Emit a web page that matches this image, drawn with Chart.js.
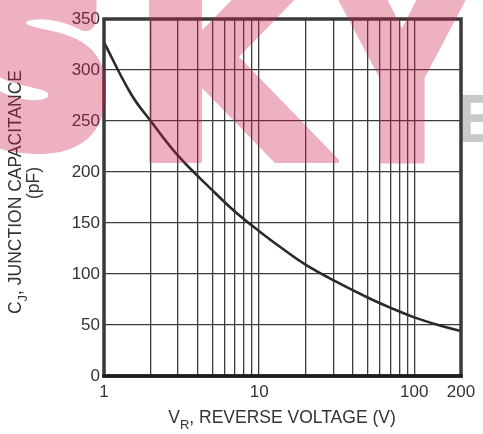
<!DOCTYPE html>
<html>
<head>
<meta charset="utf-8">
<script src="https://cdn.jsdelivr.net/npm/chart.js@4/dist/chart.umd.min.js"></script>
<style>
  html, body { margin: 0; padding: 0; background: #fff; }
  canvas { display: block; }
</style>
</head>
<body>
<canvas id="cj" width="483" height="434"></canvas>
<script>
// Junction capacitance vs reverse voltage (log x axis)
const voltage     = [1, 1.5, 2, 3, 5, 7, 10, 15, 20, 30, 50, 70, 100, 150, 200];
const capacitance = [327, 276, 250, 216, 182, 161, 142, 122, 109, 94, 77, 67, 57.5, 49, 44];

const gridVoltages = [1, 2, 3, 4, 5, 6, 7, 8, 9, 10, 20, 30, 40, 50, 60, 70, 80, 90, 100, 200];
const labelledVoltages = [1, 10, 100, 200];

const FONT = '"Liberation Sans", Arial, Helvetica, sans-serif';
const INK = '#333333';

// draw a run of text pieces (some subscripted) centred on cx
function drawRun(ctx, parts, cx, y) {
  let total = 0;
  for (const p of parts) {
    ctx.font = `${p.size}px ${FONT}`;
    p.w = ctx.measureText(p.t).width;
    total += p.w;
  }
  let x = cx - total / 2;
  ctx.textAlign = 'left';
  ctx.textBaseline = 'alphabetic';
  for (const p of parts) {
    ctx.font = `${p.size}px ${FONT}`;
    ctx.fillText(p.t, x, y + (p.dy || 0));
    x += p.w;
  }
}

// fit a single glyph into a box; `grow` thickens the strokes
function drawLetter(ctx, ch, font, x0, x1, y0, y1, grow = 0) {
  ctx.save();
  ctx.font = font;
  ctx.textAlign = 'left';
  ctx.textBaseline = 'alphabetic';
  const m = ctx.measureText(ch);
  const gw = m.actualBoundingBoxLeft + m.actualBoundingBoxRight;
  const gh = m.actualBoundingBoxAscent + m.actualBoundingBoxDescent;
  const sx = (x1 - x0 - grow) / gw;
  const sy = (y1 - y0 - grow) / gh;
  ctx.translate(x0 + grow / 2, y0 + grow / 2);
  ctx.scale(sx, sy);
  ctx.fillText(ch, m.actualBoundingBoxLeft, m.actualBoundingBoxAscent);
  if (grow > 0) {
    ctx.lineJoin = 'round';
    ctx.strokeStyle = ctx.fillStyle;
    ctx.lineWidth = grow / Math.min(sx, sy);
    ctx.strokeText(ch, m.actualBoundingBoxLeft, m.actualBoundingBoxAscent);
  }
  ctx.restore();
}

const decorations = {
  id: 'decorations',
  beforeDraw(chart) {
    const ctx = chart.ctx;
    ctx.save();
    ctx.fillStyle = '#fff';
    ctx.fillRect(0, 0, chart.width, chart.height);
    ctx.fillStyle = '#c9c9c9';
    drawLetter(ctx, 'E', `bold 80px ${FONT}`, 462, 496, 95, 142);
    ctx.restore();
  },
  afterDatasetsDraw(chart) {
    const ctx = chart.ctx;
    const a = chart.chartArea;
    ctx.save();
    // frame
    ctx.strokeStyle = '#3a3a3a';
    ctx.lineWidth = 3.5;
    ctx.strokeRect(a.left, a.top, a.right - a.left, a.bottom - a.top);
    ctx.strokeStyle = '#1e1e1e';
    ctx.beginPath();
    ctx.moveTo(a.left - 1.75, a.bottom);
    ctx.lineTo(a.right + 1.75, a.bottom);
    ctx.stroke();

    // axis titles
    ctx.fillStyle = INK;
    drawRun(ctx, [
      { t: 'V', size: 17.5 },
      { t: 'R', size: 13, dy: 6 },
      { t: ', REVERSE VOLTAGE (V)', size: 17.5 }
    ], 282, 423);

    ctx.translate(21, 192);
    ctx.rotate(-Math.PI / 2);
    drawRun(ctx, [
      { t: 'C', size: 17.5 },
      { t: 'J', size: 13, dy: 6 },
      { t: ', JUNCTION CAPACITANCE', size: 17.5 }
    ], 0, 0);
    ctx.font = `17.5px ${FONT}`;
    ctx.textAlign = 'center';
    ctx.fillText('(pF)', 9, 18);
    ctx.restore();
  },
  afterDraw(chart) {
    // heavy lettering, drawn opaque off-screen then laid over at low alpha
    const off = document.createElement('canvas');
    off.width = chart.width;
    off.height = chart.height;
    const o = off.getContext('2d');
    o.fillStyle = 'rgb(205, 30, 75)';
    const f = `bold 250px "DejaVu Sans", ${FONT}`;
    drawLetter(o, 'S', f, -30, 106, -34, 153, 22);
    drawLetter(o, 'K', f, 148, 340, -40, 163, 4);
    drawLetter(o, 'Y', f, 318, 486, -40, 163, 4);
    const ctx = chart.ctx;
    ctx.save();
    ctx.globalAlpha = 0.34;
    ctx.drawImage(off, 0, 0);
    ctx.restore();
  }
};

new Chart(document.getElementById('cj'), {
  type: 'line',
  data: {
    datasets: [{
      data: voltage.map((v, i) => ({ x: v, y: capacitance[i] })),
      borderColor: '#2a2a2a',
      borderWidth: 2.6,
      pointRadius: 0,
      fill: false,
      tension: 0.4
    }]
  },
  options: {
    responsive: false,
    animation: false,
    devicePixelRatio: 1,
    layout: { padding: { left: 0, top: 19, right: 22, bottom: 0 } },
    plugins: { legend: { display: false }, tooltip: { enabled: false } },
    scales: {
      x: {
        type: 'logarithmic',
        min: 1,
        max: 200,
        afterBuildTicks: (s) => { s.ticks = gridVoltages.map((v) => ({ value: v })); },
        afterFit: (s) => { s.height = 58; },
        border: { display: false },
        grid: { color: '#3c3c3c', lineWidth: 1.3, drawTicks: false },
        ticks: {
          autoSkip: false,
          maxRotation: 0,
          padding: 6,
          color: INK,
          font: { family: FONT, size: 17 },
          callback: (v) => (labelledVoltages.includes(v) ? String(v) : '')
        }
      },
      y: {
        min: 0,
        max: 350,
        afterFit: (s) => { s.width = 104; },
        border: { display: false },
        grid: { color: '#3c3c3c', lineWidth: 1.3, drawTicks: false },
        ticks: {
          stepSize: 50,
          padding: 4,
          color: INK,
          font: { family: FONT, size: 17 }
        }
      }
    }
  },
  plugins: [decorations]
});
</script>
</body>
</html>
